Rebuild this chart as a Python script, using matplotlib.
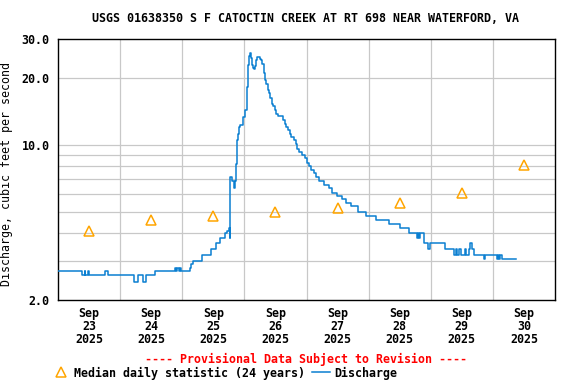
import numpy as np
import matplotlib
matplotlib.use("Agg")
import matplotlib.pyplot as plt
import matplotlib.dates as mdates
from matplotlib.ticker import FixedLocator, NullFormatter
from datetime import datetime, timedelta

title = "USGS 01638350 S F CATOCTIN CREEK AT RT 698 NEAR WATERFORD, VA"
ylabel = "Discharge, cubic feet per second"
start = datetime(2025, 9, 23)

# discharge, step changes: days since Sep 23 00:00 (10 per row), cfs
q_days = [0.00, 0.38, 0.43, 0.44, 0.48, 0.50, 0.76, 0.81, 1.23, 1.285,
          1.376, 1.415, 1.565, 1.876, 1.90, 1.92, 1.94, 1.956, 1.98, 2.13,
          2.145, 2.18, 2.318, 2.468, 2.537, 2.608, 2.682, 2.72, 2.753, 2.763,
          2.77, 2.774, 2.80, 2.828, 2.844, 2.86, 2.88, 2.897, 2.919, 2.935,
          2.973, 3.016, 3.043, 3.06, 3.076, 3.086, 3.108, 3.124, 3.14, 3.16,
          3.177, 3.194, 3.21, 3.247, 3.263, 3.285, 3.31, 3.334, 3.355, 3.376,
          3.398, 3.419, 3.447, 3.468, 3.489, 3.51, 3.543, 3.618, 3.65, 3.677,
          3.705, 3.73, 3.758, 3.795, 3.823, 3.85, 3.887, 3.93, 3.968, 4.00,
          4.037, 4.076, 4.118, 4.157, 4.20, 4.28, 4.36, 4.414, 4.495, 4.576,
          4.64, 4.71, 4.827, 4.963, 5.124, 5.327, 5.505, 5.65, 5.774, 5.79,
          5.81, 5.83, 5.892, 5.95, 5.98, 6.23, 6.376, 6.40, 6.42, 6.46,
          6.48, 6.55, 6.57, 6.618, 6.635, 6.656, 6.698, 6.85, 6.87, 7.02,
          7.06, 7.08, 7.10, 7.12, 7.145, 7.38]
q_vals = [2.7, 2.6, 2.7, 2.6, 2.7, 2.6, 2.7, 2.6, 2.4, 2.6,
          2.4, 2.6, 2.7, 2.8, 2.7, 2.8, 2.7, 2.8, 2.7, 2.8,
          2.9, 3.0, 3.2, 3.4, 3.6, 3.8, 4.0, 4.1, 4.2, 3.8,
          6.5, 7.2, 6.9, 6.4, 6.9, 8.2, 10.5, 11.2, 12.0, 12.3,
          13.3, 14.3, 18.2, 22.8, 25.2, 25.9, 24.6, 22.8, 22.1, 21.9,
          22.6, 24.2, 25.0, 24.5, 24.2, 23.2, 21.1, 19.6, 18.9, 17.6,
          17.1, 16.3, 15.3, 14.9, 14.3, 13.8, 13.5, 12.9, 12.4, 12.0,
          11.7, 11.2, 10.9, 10.5, 10.1, 9.6, 9.3, 9.0, 8.7, 8.3,
          8.0, 7.7, 7.5, 7.2, 6.9, 6.6, 6.4, 6.1, 5.9, 5.7,
          5.5, 5.3, 5.0, 4.8, 4.6, 4.4, 4.2, 4.0, 3.8, 4.0,
          3.8, 4.0, 3.6, 3.4, 3.6, 3.4, 3.2, 3.4, 3.2, 3.4,
          3.2, 3.4, 3.2, 3.4, 3.6, 3.4, 3.2, 3.05, 3.2, 3.2,
          3.05, 3.2, 3.05, 3.2, 3.05, 3.05]

# median daily statistic (24 years), one per day at noon
med_days = [0.5, 1.5, 2.5, 3.5, 4.5, 5.5, 6.5, 7.5]
med_vals = [4.1, 4.6, 4.8, 5.0, 5.2, 5.45, 6.05, 8.15]

day_labels = ["Sep\n23\n2025", "Sep\n24\n2025", "Sep\n25\n2025", "Sep\n26\n2025",
              "Sep\n27\n2025", "Sep\n28\n2025", "Sep\n29\n2025", "Sep\n30\n2025"]
y_ticks = [2, 10, 20, 30]
y_labels = ["2.0", "10.0", "20.0", "30.0"]
y_grid = [3, 4, 5, 6, 7, 8, 9, 10, 20]

plt.rcParams['font.family'] = ['DejaVu Sans Mono']
plt.rcParams['font.weight'] = 'bold'
fs = 8.4

fig = plt.figure(figsize=(5.76, 3.84), dpi=100)
ax = fig.add_axes([58/576, 1-300/384, (555-58)/576, (300-39)/384])

t_q = [start + timedelta(days=d) for d in q_days]
t_m = [start + timedelta(days=d) for d in med_days]

line, = ax.plot(t_q, q_vals, drawstyle='steps-post', color='#0a7fd1', lw=1.1,
                label='Discharge', zorder=3)
tri, = ax.plot(t_m, med_vals, ls='none', marker='^', ms=7.5, mfc='none',
               mec='#ffa500', mew=1.1, label='Median daily statistic (24 years)', zorder=4)

ax.set_yscale('log')
ax.set_ylim(2, 30)
ax.set_xlim(start, start + timedelta(days=8))

ax.yaxis.set_major_locator(FixedLocator(y_ticks))
ax.yaxis.set_major_formatter(plt.FixedFormatter(y_labels))
ax.yaxis.set_minor_locator(FixedLocator(y_grid))
ax.yaxis.set_minor_formatter(NullFormatter())
ax.yaxis.remove_overlapping_locs = False

ax.xaxis.set_major_locator(FixedLocator([mdates.date2num(t) for t in t_m]))
ax.xaxis.set_major_formatter(plt.FixedFormatter(day_labels))
ax.xaxis.set_minor_locator(FixedLocator(
    [mdates.date2num(start + timedelta(days=i)) for i in range(1, 8)]))

ax.grid(False)
ax.grid(True, which='minor', color='#c8c8c8', lw=0.9)
ax.tick_params(which='both', length=0)
ax.tick_params(axis='y', pad=6, labelsize=fs)
ax.tick_params(axis='x', pad=5, labelsize=fs)
for lab in ax.get_xticklabels():
    lab.set_linespacing(1.02)
for s in ax.spines.values():
    s.set_linewidth(1.0)
    s.set_color('black')

ax.set_ylabel(ylabel, fontsize=fs)
ax.yaxis.set_label_coords(13/576, 1-174/384, transform=fig.transFigure)
fig.text(306/576, 1-19/384, title, ha='center', va='center', fontsize=fs)
fig.text(306/576, 1-359/384, "---- Provisional Data Subject to Revision ----",
         ha='center', va='center', fontsize=fs, color='red')

fig.legend(handles=[tri, line], ncol=2, frameon=False, fontsize=fs,
           loc='center left', bbox_to_anchor=(52/576, 1-373/384),
           handlelength=1.5, handletextpad=0.4, columnspacing=0.6,
           borderaxespad=0, borderpad=0)

fig.savefig("out.png", dpi=100)
